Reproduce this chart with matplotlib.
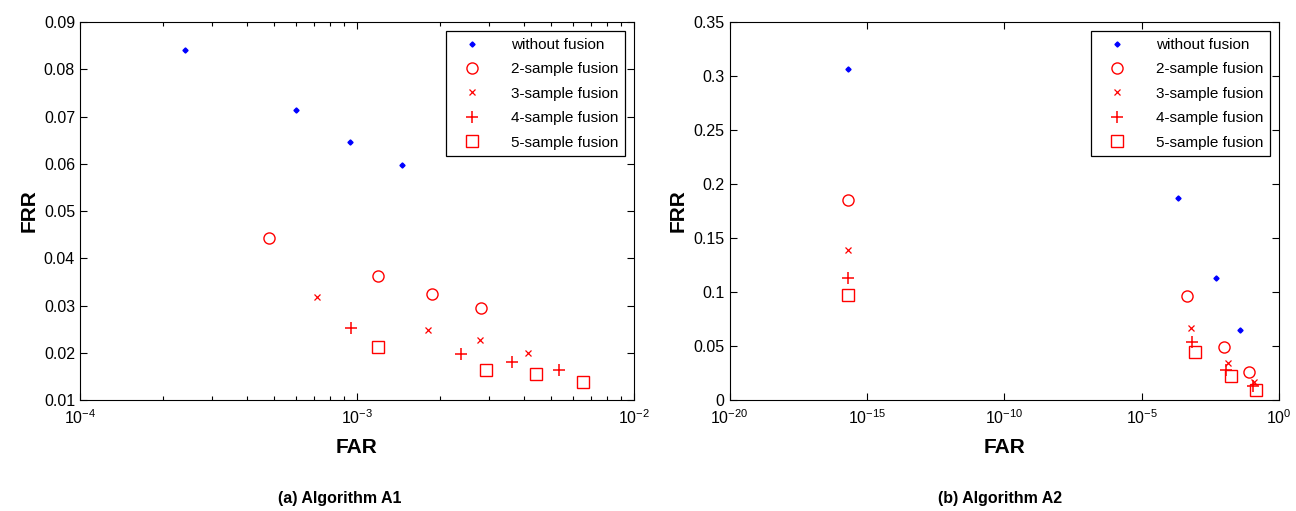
import numpy as np
import matplotlib
matplotlib.use("Agg")
import matplotlib.pyplot as plt
from matplotlib.ticker import NullLocator

plt.rcParams['font.family'] = ['Liberation Sans', 'DejaVu Sans']
plt.rcParams['mathtext.fontset'] = 'custom'
plt.rcParams['mathtext.rm'] = 'Liberation Sans'

labels = ['without fusion', '2-sample fusion', '3-sample fusion',
          '4-sample fusion', '5-sample fusion']

# Algorithm A1
a1_far = [
    [2.39e-4, 6.0e-4, 9.45e-4, 1.45e-3],
    [4.8e-4, 1.19e-3, 1.86e-3, 2.8e-3],
    [7.18e-4, 1.80e-3, 2.78e-3, 4.15e-3],
    [9.5e-4, 2.37e-3, 3.62e-3, 5.35e-3],
    [1.19e-3, 2.93e-3, 4.42e-3, 6.54e-3],
]
a1_frr = [
    [0.0840, 0.0714, 0.0647, 0.0598],
    [0.0442, 0.0362, 0.0324, 0.0294],
    [0.0319, 0.0249, 0.0227, 0.0200],
    [0.0253, 0.0197, 0.0181, 0.0163],
    [0.0213, 0.0163, 0.0154, 0.0138],
]

# Algorithm A2
a2_far = [
    [2.1e-16, 2.1e-4, 4.95e-3, 3.8e-2],
    [2.1e-16, 4.4e-4, 9.8e-3, 7.9e-2],
    [2.1e-16, 6.2e-4, 1.43e-2, 1.23e-1],
    [2.1e-16, 7.0e-4, 1.2e-2, 1.15e-1],
    [2.1e-16, 8.5e-4, 1.78e-2, 1.51e-1],
]
a2_frr = [
    [0.3068, 0.1867, 0.1127, 0.0645],
    [0.1855, 0.0963, 0.0494, 0.0256],
    [0.1386, 0.0667, 0.0346, 0.0170],
    [0.1126, 0.0540, 0.0280, 0.0130],
    [0.0972, 0.0447, 0.0222, 0.0093],
]

styles = [
    dict(marker='D', ms=2.6, color='blue', mfc='blue', mec='blue'),
    dict(marker='o', ms=8, color='red', mfc='none', mec='red', mew=1.0),
    dict(marker='x', ms=5, color='red', mec='red', mew=0.9),
    dict(marker='+', ms=9, color='red', mec='red', mew=1.1),
    dict(marker='s', ms=8, color='red', mfc='none', mec='red', mew=1.0),
]

fig = plt.figure(figsize=(12.96, 5.11), dpi=100)
ax1 = fig.add_axes([0.0617, 0.2172, 0.4275, 0.7397])
ax2 = fig.add_axes([0.5629, 0.2172, 0.4240, 0.7397])


def draw(ax, far, frr):
    for fx, fy, lab, st in zip(far, frr, labels, styles):
        ax.plot(fx, fy, linestyle='none', label=lab, **st)
    ax.set_xscale('log')
    ax.tick_params(which='both', direction='in', top=True, right=True,
                   labelsize=11.5, length=5, width=0.8)
    ax.tick_params(axis='x', pad=6)
    ax.tick_params(which='minor', length=3)
    ax.set_xlabel('FAR', fontsize=15, fontweight='bold', labelpad=8)
    ax.set_ylabel('FRR', fontsize=15, fontweight='bold', labelpad=4)
    leg = ax.legend(loc='upper right', fontsize=11, frameon=True,
                    fancybox=False, edgecolor='black', framealpha=1,
                    labelspacing=0.68, handletextpad=1.2, borderaxespad=0.6,
                    handlelength=2.6, borderpad=0.45)
    leg.get_frame().set_linewidth(0.9)


def sup(e):
    return r'$\mathregular{10^{%d}}$' % e


draw(ax1, a1_far, a1_frr)
ax1.set_xlim(1e-4, 1e-2)
ax1.set_ylim(0.01, 0.09)
ax1.set_xticks([1e-4, 1e-3, 1e-2])
ax1.set_xticklabels([sup(-4), sup(-3), sup(-2)])
ax1.set_yticks(np.arange(0.01, 0.0901, 0.01))
ax1.set_yticklabels(['%.2f' % v for v in np.arange(0.01, 0.0901, 0.01)])

draw(ax2, a2_far, a2_frr)
ax2.set_xlim(1e-20, 1)
ax2.set_ylim(0, 0.35)
ax2.set_xticks([1e-20, 1e-15, 1e-10, 1e-5, 1])
ax2.set_xticklabels([sup(-20), sup(-15), sup(-10), sup(-5), sup(0)])
ax2.xaxis.set_minor_locator(NullLocator())
ax2.set_yticks([0, 0.05, 0.1, 0.15, 0.2, 0.25, 0.3, 0.35])
ax2.set_yticklabels(['0', '0.05', '0.1', '0.15', '0.2', '0.25', '0.3', '0.35'])

fig.text(0.262, 0.015, '(a) Algorithm A1', ha='center', fontsize=11.5, fontweight='bold')
fig.text(0.772, 0.015, '(b) Algorithm A2', ha='center', fontsize=11.5, fontweight='bold')

fig.savefig('out.png', dpi=100)
